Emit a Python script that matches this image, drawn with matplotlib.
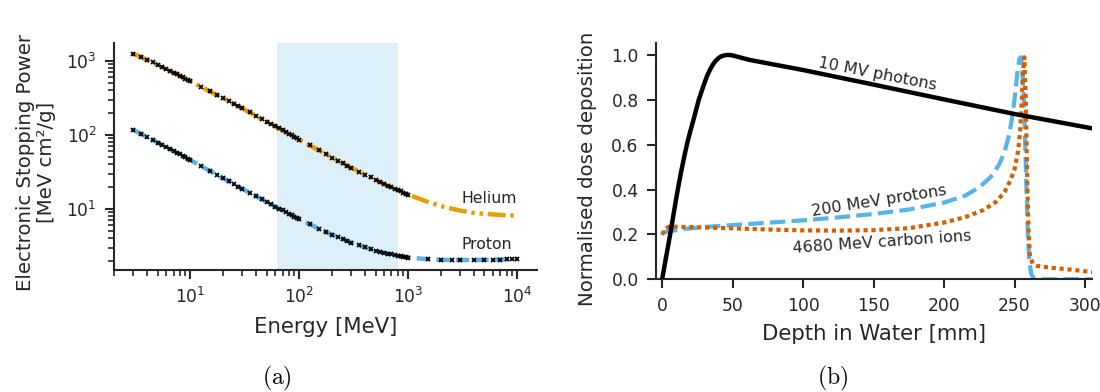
import matplotlib
matplotlib.use("Agg")
import matplotlib.pyplot as plt
from matplotlib.ticker import LogLocator, NullFormatter

# ---------------- data: panel (a) ----------------
energy_p = [3, 3.5, 4, 4.5, 5, 5.5, 6, 6.5, 7, 7.5, 8, 8.5, 9, 9.5, 10,
            12.5, 15, 17.5, 20, 22.5, 25, 27.5, 30, 35, 40, 45, 50, 55, 60,
            65, 70, 75, 80, 85, 90, 95, 100, 125, 150, 175, 200, 225, 250,
            275, 300, 350, 400, 450, 500, 550, 600, 650, 700, 750, 800, 850,
            900, 950, 1000, 1500, 2000, 2500, 3000, 4000, 5000, 6000, 7000,
            8000, 9000, 10000]
stop_p = [117.2, 104.1, 94.0, 85.8, 79.1, 73.4, 68.6, 64.4, 60.7, 57.5, 54.6,
          52.0, 49.7, 47.6, 45.67, 38.14, 32.92, 29.05, 26.07, 23.70, 21.75,
          20.13, 18.76, 16.58, 14.89, 13.55, 12.46, 11.56, 10.79, 10.14, 9.571,
          9.072, 8.629, 8.243, 7.895, 7.579, 7.291, 6.209, 5.446, 4.912, 4.493,
          4.185, 3.928, 3.710, 3.520, 3.250, 3.032, 2.876, 2.744, 2.644, 2.556,
          2.492, 2.434, 2.381, 2.333, 2.300, 2.269, 2.240, 2.2125, 2.10, 2.06,
          2.05, 2.05, 2.05, 2.06, 2.07, 2.08, 2.09, 2.10, 2.11]

energy_he = [3, 3.5, 4, 4.5, 5, 5.5, 6, 6.5, 7, 7.5, 8, 8.5, 9, 9.5, 10,
             12.5, 15, 17.5, 20, 22.5, 25, 27.5, 30, 35, 40, 45, 50, 55, 60,
             65, 70, 75, 80, 85, 90, 95, 100, 125, 150, 175, 200, 225, 250,
             275, 300, 350, 400, 450, 500, 550, 600, 650, 700, 750, 800, 850,
             900, 950, 1000]
stop_he = [1250, 1134, 1037, 956, 887, 829, 778, 734, 696, 662, 631, 603, 578,
           555, 534, 450, 391, 347, 315, 287, 264, 245, 228.6, 202.2, 181.7,
           165.2, 151.7, 140.5, 131.0, 122.7, 115.6, 109.3, 103.7, 98.7, 94.2,
           90.2, 86.5, 72.2, 62.4, 55.1, 49.6, 45.2, 41.6, 38.6, 36.1, 32.1,
           29.0, 26.7, 24.7, 23.1, 21.7, 20.55, 19.56, 18.68, 17.90, 17.26,
           16.67, 16.14, 15.65]
# helium reference curve continues above the tabulated data
energy_he_ext = [1000, 1500, 2000, 3000, 4000, 5000, 6000, 7000, 8000, 9000, 10000]
stop_he_ext = [15.65, 12.5, 10.94, 9.50, 8.84, 8.60, 8.45, 8.33, 8.24, 8.18, 8.15]

band_range = [62, 800]

# ---------------- data: panel (b) ----------------
depth_photon = [0, 2, 4, 6, 8, 10, 12, 14, 16, 18, 20, 22, 24, 26, 28, 30,
                32, 34, 36, 38, 40, 42, 44, 46, 48, 50, 62, 100, 150, 200,
                250, 305]
dose_photon = [0.0, 0.07, 0.14, 0.21, 0.285, 0.36, 0.43, 0.495, 0.555, 0.612,
               0.66, 0.705, 0.752, 0.80, 0.838, 0.874, 0.908, 0.935, 0.957,
               0.974, 0.986, 0.994, 0.998, 1.0, 1.0, 0.998, 0.978, 0.933,
               0.868, 0.802, 0.737, 0.673]

depth_proton = [0, 5, 15, 30, 50, 75, 100, 125, 150, 175, 200, 215, 225, 233,
                239, 243, 246, 248, 250, 252, 253.5, 254.5, 255.5, 256.5,
                257.5, 258.5, 259.5, 260.5, 262, 264, 270, 305]
dose_proton = [0.208, 0.214, 0.224, 0.233, 0.242, 0.252, 0.263, 0.276, 0.291,
               0.311, 0.342, 0.373, 0.41, 0.455, 0.51, 0.57, 0.64, 0.71, 0.80,
               0.92, 0.985, 0.99, 0.94, 0.82, 0.62, 0.40, 0.20, 0.08, 0.02,
               0.004, 0.0, 0.0]

depth_carbon = [0, 2, 5, 10, 30, 50, 75, 100, 125, 150, 175, 200, 215, 228,
                237, 243, 247, 250, 252.5, 254, 255, 256, 257, 258, 259, 260,
                261, 263, 266, 275, 290, 305]
dose_carbon = [0.198, 0.225, 0.235, 0.234, 0.231, 0.227, 0.222, 0.218, 0.217,
               0.219, 0.228, 0.253, 0.277, 0.309, 0.346, 0.39, 0.44, 0.49,
               0.57, 0.66, 0.78, 0.93, 0.99, 0.80, 0.45, 0.20, 0.10, 0.07,
               0.06, 0.052, 0.043, 0.032]

# ---------------- style ----------------
TXT = "#262626"
plt.rcParams.update({
    "font.family": ["DejaVu Sans"],
    "text.color": TXT,
    "axes.labelcolor": TXT,
    "xtick.color": TXT,
    "ytick.color": TXT,
    "axes.edgecolor": TXT,
    "axes.linewidth": 1.5,
})
C_HE = "#E69F00"
C_P = "#56B4E9"
C_C = "#D55E00"

fig = plt.figure(figsize=(11, 3.92), dpi=100)
ax1 = fig.add_axes([0.1039, 0.3112, 0.3840, 0.5783])
ax2 = fig.add_axes([0.5964, 0.2875, 0.3961, 0.6020])

for ax in (ax1, ax2):
    ax.spines["top"].set_visible(False)
    ax.spines["right"].set_visible(False)
    ax.tick_params(which="major", direction="out", length=6.5, width=1.5,
                   labelsize=12.3, pad=6)
    ax.tick_params(which="minor", direction="out", length=4, width=1.2)

# ----- panel (a) -----
ax1.axvspan(band_range[0], band_range[1], color=C_P, alpha=0.2, lw=0, zorder=0)
ax1.plot(energy_he + energy_he_ext[1:], stop_he + stop_he_ext[1:], color=C_HE,
         lw=3.2, ls=(0, (4.0, 1.1, 0.75, 1.1, 0.75, 1.1)), zorder=2)
ax1.plot(energy_p, stop_p, color=C_P, lw=3.2, ls=(0, (3.0, 1.4)), zorder=2)
ax1.plot(energy_he, stop_he, ls="none", marker="x", ms=3.5, mew=1.3,
         color="black", zorder=3)
ax1.plot(energy_p, stop_p, ls="none", marker="x", ms=3.5, mew=1.3,
         color="black", zorder=3)
ax1.set_xscale("log")
ax1.set_yscale("log")
ax1.set_xlim(2.0, 15070)
ax1.set_ylim(1.5, 1734)
ax1.xaxis.set_major_locator(LogLocator(base=10, numticks=10))
ax1.xaxis.set_minor_locator(LogLocator(base=10, subs=range(2, 10), numticks=30))
ax1.yaxis.set_minor_locator(LogLocator(base=10, subs=range(2, 10), numticks=30))
ax1.xaxis.set_minor_formatter(NullFormatter())
ax1.yaxis.set_minor_formatter(NullFormatter())
ax1.text(3050, 14.0, "Helium", fontsize=11.3, ha="left", va="center")
ax1.text(3050, 3.27, "Proton", fontsize=11.3, ha="left", va="center")
ax1.set_xlabel("Energy [MeV]", fontsize=15.3, labelpad=7)
ax1.set_ylabel("Electronic Stopping Power\n[MeV cm²/g]", fontsize=14.2,
               multialignment="center", linespacing=1.1)
ax1.yaxis.set_label_coords(-0.138, 0.474)

# ----- panel (b) -----
ax2.plot(depth_photon, dose_photon, color="black", lw=3.2, zorder=3)
ax2.plot(depth_proton, dose_proton, color=C_P, lw=3.0, ls=(0, (3.7, 1.5)), zorder=2)
ax2.plot(depth_carbon, dose_carbon, color=C_C, lw=3.0, ls=(0, (1, 0.9)), zorder=2)
ax2.set_xlim(-4.3, 304.8)
ax2.set_ylim(0, 1.052)
ax2.set_xticks([0, 50, 100, 150, 200, 250, 300])
ax2.set_yticks([0.0, 0.2, 0.4, 0.6, 0.8, 1.0])
ax2.set_yticklabels(["0.0", "0.2", "0.4", "0.6", "0.8", "1.0"])
ax2.text(153.1, 0.916, "10 MV photons", fontsize=11.5, rotation=-11,
         ha="center", va="center", rotation_mode="anchor")
ax2.text(153.6, 0.348, "200 MeV protons", fontsize=11.5, rotation=9,
         ha="center", va="center", rotation_mode="anchor")
ax2.text(156.0, 0.164, "4680 MeV carbon ions", fontsize=11.5, rotation=4,
         ha="center", va="center", rotation_mode="anchor")
ax2.set_xlabel("Depth in Water [mm]", fontsize=15.3, labelpad=7)
ax2.set_ylabel("Normalised dose deposition", fontsize=14.2)
ax2.yaxis.set_label_coords(-0.1354, 0.47)

# ----- sub-figure captions -----
fig.text(277 / 1100, 1 - 378.5 / 392, r"$(\mathrm{a})$", fontsize=17,
         ha="center", va="center", math_fontfamily="cm", color="black")
fig.text(833 / 1100, 1 - 378.5 / 392, r"$(\mathrm{b})$", fontsize=17,
         ha="center", va="center", math_fontfamily="cm", color="black")

fig.savefig("out.png", dpi=100)
